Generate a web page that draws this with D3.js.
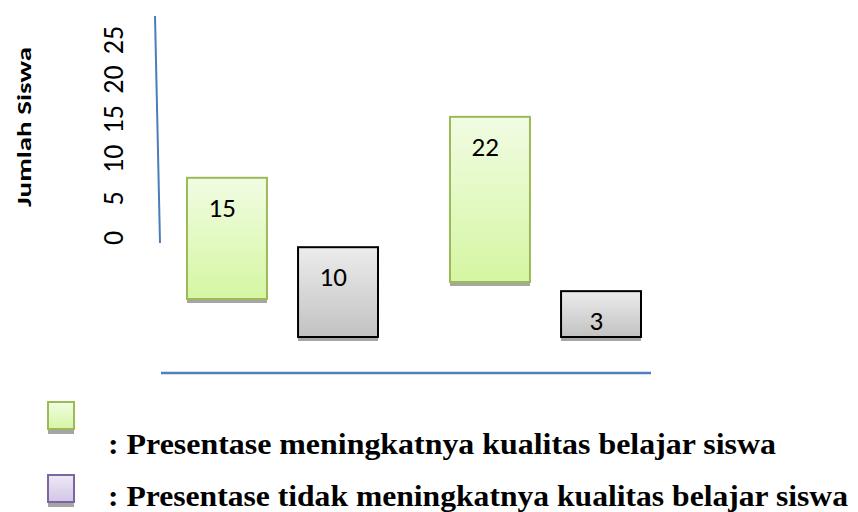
<!DOCTYPE html>
<html lang="id">
<head>
    <meta charset="UTF-8">
    <title>Jumlah Siswa | D3</title>
    <style>
        body { margin: 0; background: #fff; }
    </style>
</head>
<body>
    <div id="container"></div>

    <script type="text/javascript" src="https://d3js.org/d3.v7.min.js"></script>
    <script type="text/javascript">
        // chart values
        var categories = ["Siklus I", "Siklus II"];
        var series = ["meningkat", "tidak"];
        var meningkat = [15, 22];
        var tidakMeningkat = [10, 3];
        var yTicks = [0, 5, 10, 15, 20, 25];
        var legendLabels = [
            ": Presentase meningkatnya kualitas belajar siswa",
            ": Presentase tidak meningkatnya kualitas belajar siswa"
        ];

        // where each bar sits (the source chart floats them)
        var barBottom = { meningkat: [299, 282], tidak: [337, 337] };

        var svg = d3.select("#container")
            .append("svg")
            .attr("width", 858)
            .attr("height", 512);

        var defs = svg.append("defs");
        function grad(id, top, bottom) {
            var g = defs.append("linearGradient")
                .attr("id", id)
                .attr("x1", 0).attr("y1", 0)
                .attr("x2", 0).attr("y2", 1);
            g.append("stop").attr("offset", "0%").attr("stop-color", top);
            g.append("stop").attr("offset", "100%").attr("stop-color", bottom);
        }
        grad("gGreen", "#f1fce3", "#d5f6a2");
        grad("gGray", "#ececec", "#c2c2c2");
        grad("gPurple", "#eee9f5", "#d2c6e7");

        var style = {
            meningkat: { fill: "url(#gGreen)", stroke: "#9bbb59" },
            tidak: { fill: "url(#gGray)", stroke: "#000" }
        };
        var sans = "Carlito, 'Open Sans', sans-serif";

        var x0 = d3.scaleBand().domain(categories).range([150, 676]);
        var x1 = d3.scaleBand().domain(series).range([37, 228]).paddingInner(0.28);
        var h = d3.scaleLinear().domain([0, 25]).range([27, 184]);

        // y "axis": tick labels rotated, as in the source
        var yLab = d3.scaleLinear().domain([0, 25]).range([238, 40]);
        svg.append("g")
            .selectAll("text")
            .data(yTicks)
            .enter()
                .append("text")
                .attr("transform", function(d) { return "translate(123," + yLab(d) + ") rotate(-90)"; })
                .attr("text-anchor", "middle")
                .attr("font-family", sans)
                .attr("font-size", 28)
                .text(function(d) { return d; });

        svg.append("line")
            .attr("x1", 155).attr("y1", 16)
            .attr("x2", 160).attr("y2", 243)
            .attr("stroke", "#4a7ebb")
            .attr("stroke-width", 2);

        svg.append("text")
            .attr("transform", "translate(31,127) rotate(-90)")
            .attr("text-anchor", "middle")
            .attr("font-family", sans)
            .attr("font-weight", "bold")
            .attr("font-size", 21)
            .attr("textLength", 160)
            .attr("lengthAdjust", "spacingAndGlyphs")
            .text("Jumlah Siswa");

        // x axis line
        svg.append("line")
            .attr("x1", 161).attr("y1", 373)
            .attr("x2", 651).attr("y2", 373)
            .attr("stroke", "#4f81bd")
            .attr("stroke-width", 2.5);

        var bars = [];
        categories.forEach(function(c, i) {
            bars.push({ cat: c, s: "meningkat", v: meningkat[i], bottom: barBottom.meningkat[i] });
            bars.push({ cat: c, s: "tidak", v: tidakMeningkat[i], bottom: barBottom.tidak[i] });
        });

        var g = svg.append("g");
        var bw = x1.bandwidth();

        // shadows
        g.selectAll("rect.shadow")
            .data(bars)
            .enter()
                .append("rect")
                .attr("class", "shadow")
                .attr("x", function(d) { return x0(d.cat) + x1(d.s); })
                .attr("y", function(d) { return d.bottom; })
                .attr("width", bw)
                .attr("height", 4)
                .attr("fill", "#a5a5a5");

        g.selectAll("rect.bar")
            .data(bars)
            .enter()
                .append("rect")
                .attr("class", "bar")
                .attr("x", function(d) { return x0(d.cat) + x1(d.s); })
                .attr("y", function(d) { return d.bottom - h(d.v); })
                .attr("width", bw)
                .attr("height", function(d) { return h(d.v); })
                .attr("fill", function(d) { return style[d.s].fill; })
                .attr("stroke", function(d) { return style[d.s].stroke; })
                .attr("stroke-width", 2);

        g.selectAll("text.val")
            .data(bars)
            .enter()
                .append("text")
                .attr("class", "val")
                .attr("x", function(d) { return x0(d.cat) + x1(d.s) + bw * 0.44; })
                .attr("y", function(d) { return d.bottom - h(d.v) + 39; })
                .attr("text-anchor", "middle")
                .attr("font-family", sans)
                .attr("font-size", 27)
                .text(function(d) { return d.v; });

        // legend
        var legendFill = ["url(#gGreen)", "url(#gPurple)"];
        var legendStroke = ["#9bbb59", "#8064a2"];
        var legendBoxY = d3.scalePoint().domain([0, 1]).range([402, 475]);
        var legendTextY = d3.scalePoint().domain([0, 1]).range([454, 506]);

        var lg = svg.append("g");
        lg.selectAll("rect.ls")
            .data([0, 1])
            .enter()
                .append("rect")
                .attr("x", 48).attr("y", function(d) { return legendBoxY(d) + 27; })
                .attr("width", 26).attr("height", 5)
                .attr("fill", "#a5a5a5");
        lg.selectAll("rect.lb")
            .data([0, 1])
            .enter()
                .append("rect")
                .attr("x", 48).attr("y", function(d) { return legendBoxY(d); })
                .attr("width", 26).attr("height", 27)
                .attr("fill", function(d) { return legendFill[d]; })
                .attr("stroke", function(d) { return legendStroke[d]; })
                .attr("stroke-width", 2);
        lg.selectAll("text")
            .data(legendLabels)
            .enter()
                .append("text")
                .attr("x", 108)
                .attr("y", function(d, i) { return legendTextY(i); })
                .attr("font-family", "'Liberation Serif', 'Times New Roman', serif")
                .attr("font-weight", "bold")
                .attr("font-size", 30)
                .attr("textLength", function(d, i) { return i === 0 ? 668 : 740; })
                .attr("lengthAdjust", "spacingAndGlyphs")
                .text(function(d) { return d; });
    </script>
</body>
</html>
